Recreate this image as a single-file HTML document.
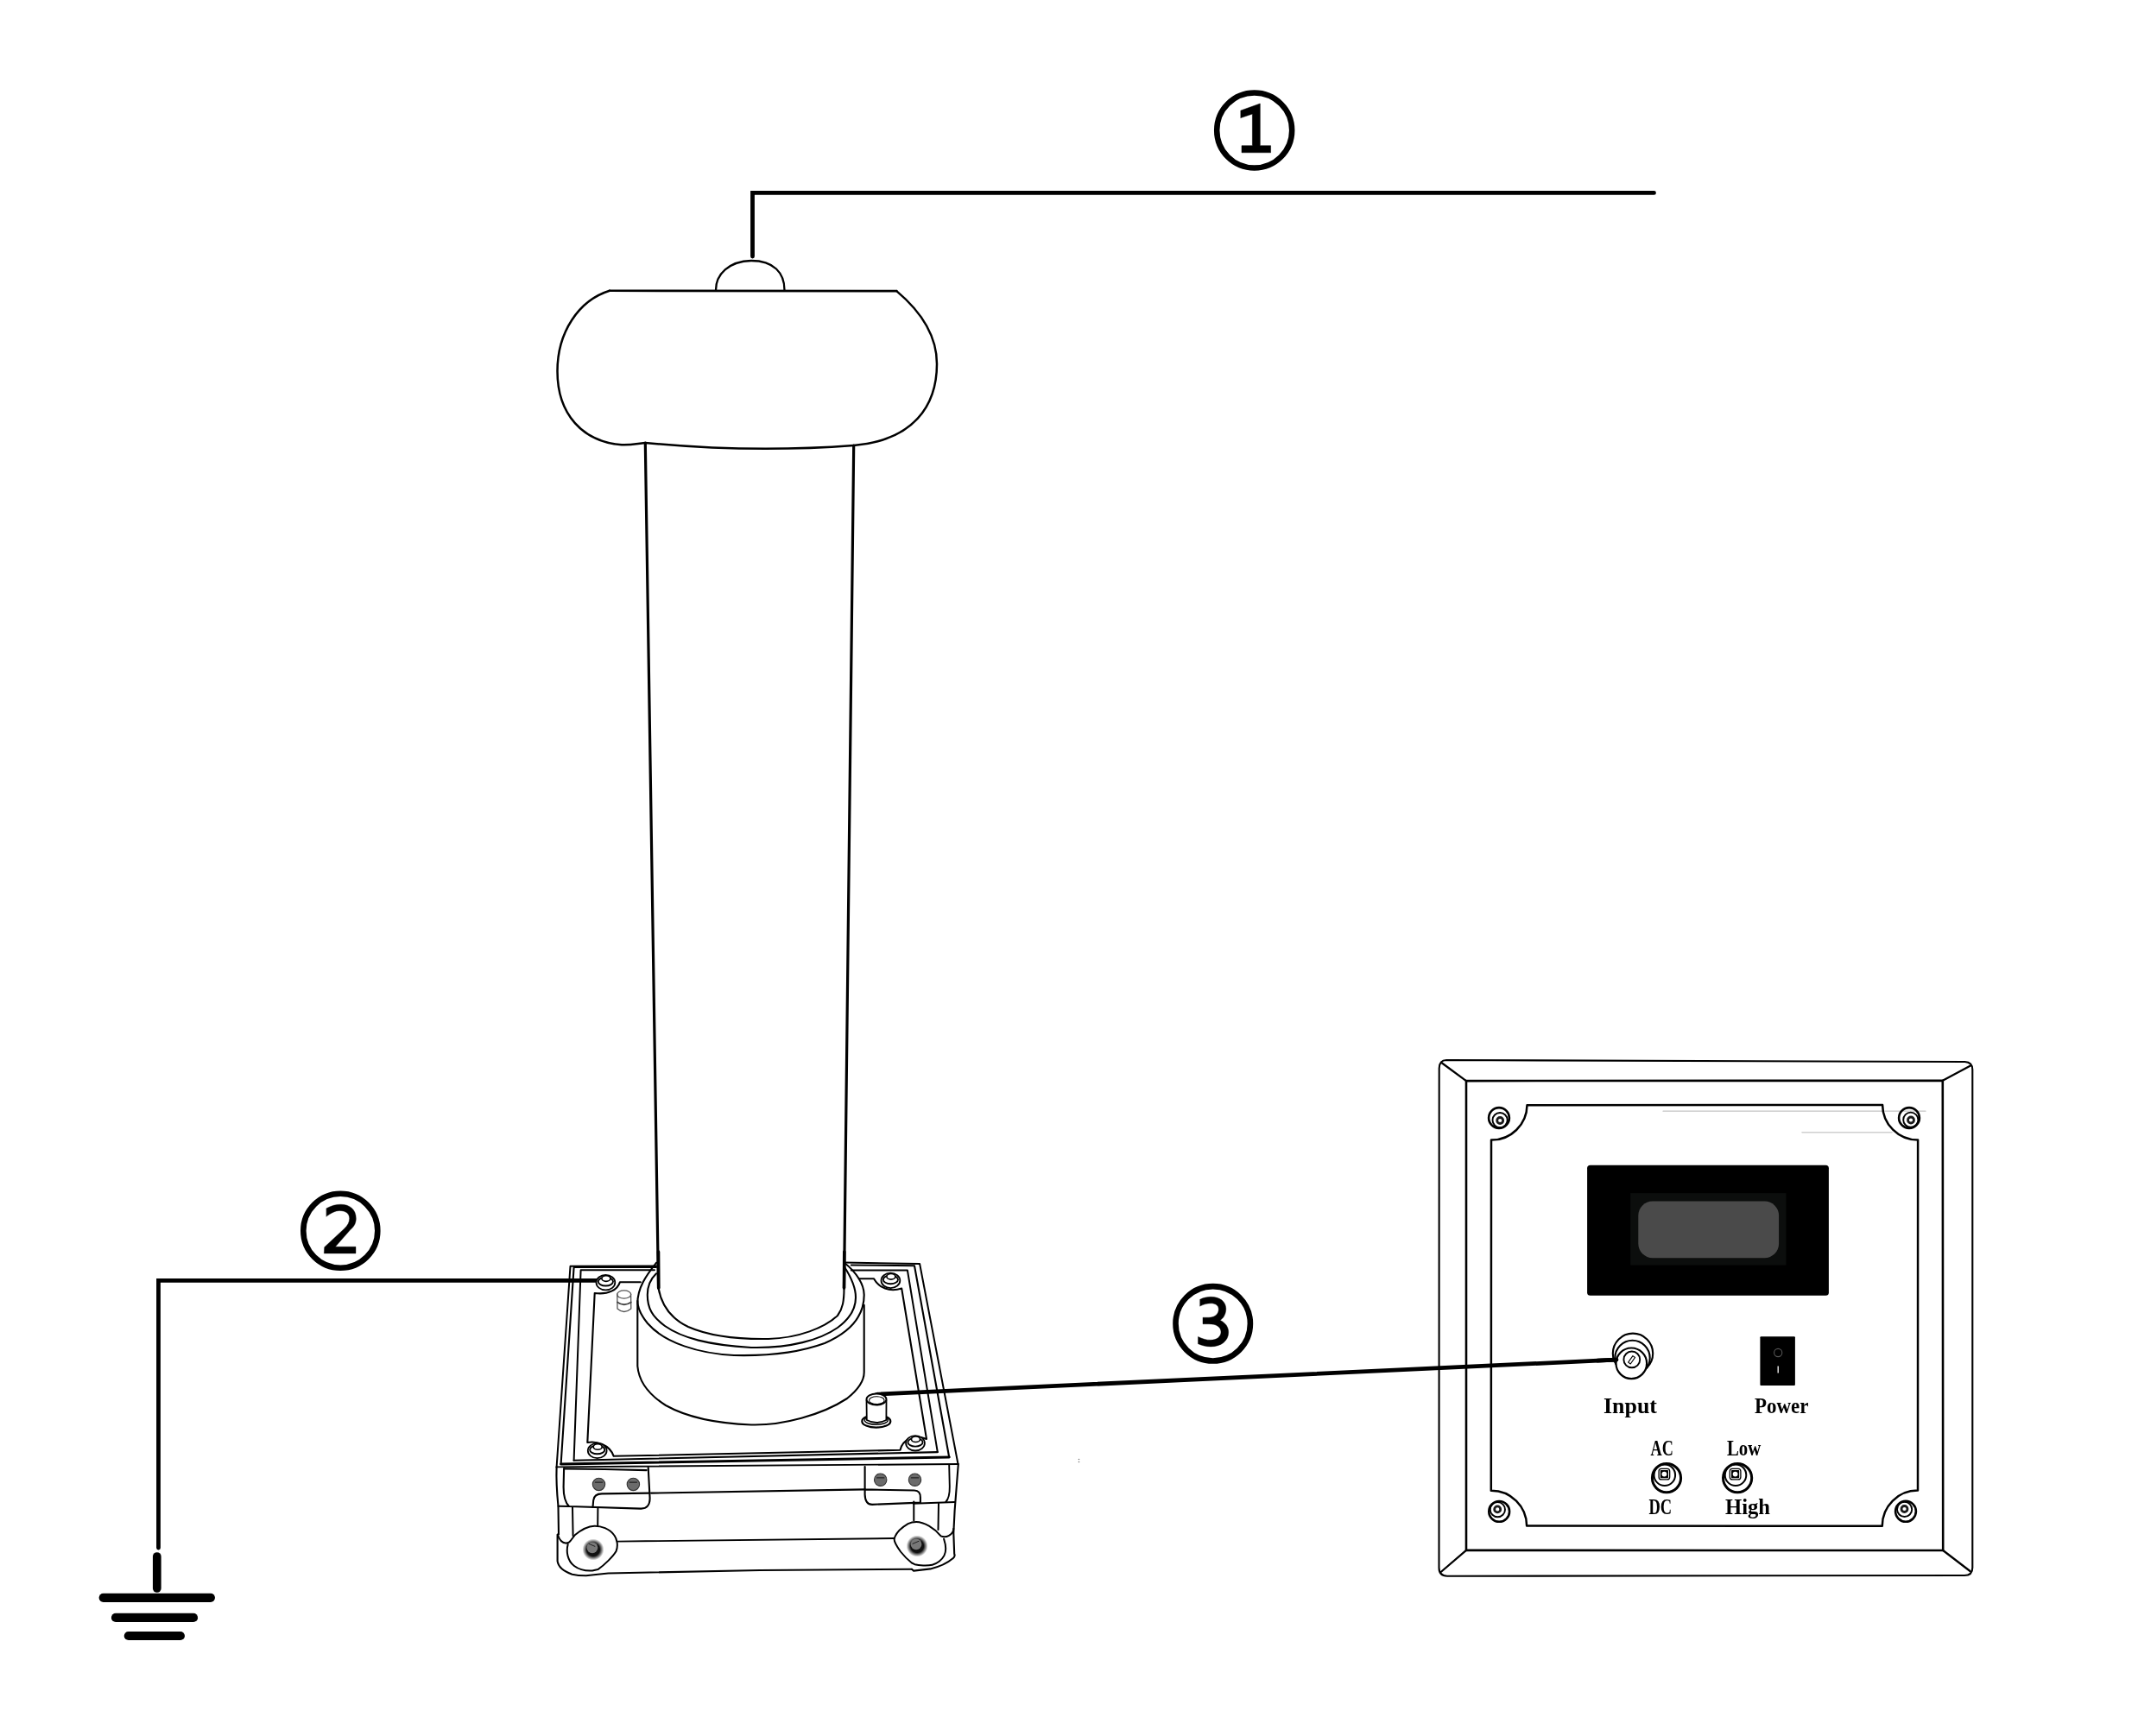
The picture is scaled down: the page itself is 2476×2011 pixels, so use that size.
<!DOCTYPE html>
<html><head><meta charset="utf-8"><title>Diagram</title>
<style>html,body{margin:0;padding:0;background:#fff;overflow:hidden}svg{display:block;will-change:transform}</style>
</head><body>
<svg width="2476" height="2011" viewBox="0 0 2476 2011" stroke-linecap="round" stroke-linejoin="round">
<rect width="2476" height="2011" fill="#fff"/>
<defs><radialGradient id="sh"><stop offset="0" stop-color="#111"/><stop offset="0.6" stop-color="#111"/><stop offset="1" stop-color="#111" stop-opacity="0"/></radialGradient></defs>
<path d="M871.5 297 L871.5 223.4 L1915.5 223.4" fill="none" stroke="#000" stroke-width="4.8" stroke-linejoin="miter" stroke-linecap="round"/>
<circle cx="1452.7" cy="151" r="43.5" fill="none" stroke="#000" stroke-width="6.5"/>
<path d="M1437 128 L1459.3 120 L1459.3 168.7 L1471.6 168.7 L1471.6 176.8 L1438 176.8 L1438 168.7 L1450.4 168.7 L1450.4 132 L1437 136.5 Z" fill="#000" stroke="#000" stroke-width="0.5"/>
<path d="M829 336 C829 318 844 302.5 870 302 C896 302 908.5 316 908.5 336" fill="none" stroke="#000" stroke-width="2.3"/>
<path d="M706 336.8 L1038.3 337.1" fill="none" stroke="#000" stroke-width="2.6"/>
<path d="M1038.3 337.1 C1062 357 1085 386 1085 421.5 C1085 470 1058 510 988.7 516 Q870 525 747.2 512.9 L739 514 Q728 515.5 720 515.2 C675 512 645.5 480 645.5 430 C645.5 385 670 348 706 336.8" fill="none" stroke="#000" stroke-width="2.5"/>
<path d="M747.3 513 L762.5 1492" fill="none" stroke="#000" stroke-width="3.2"/>
<path d="M988.7 516 L977.5 1492" fill="none" stroke="#000" stroke-width="3.2"/>
<path d="M694.5 1483.4 L183.5 1483.4 L183.5 1793" fill="none" stroke="#000" stroke-width="4.8" stroke-linejoin="miter"/>
<path d="M181.8 1803 L181.8 1840" fill="none" stroke="#000" stroke-width="9.7"/>
<path d="M119.7 1850.8 L243.9 1850.8" fill="none" stroke="#000" stroke-width="10.2"/>
<path d="M134 1873.9 L224 1873.9" fill="none" stroke="#000" stroke-width="10.2"/>
<path d="M148.8 1895 L208.9 1895" fill="none" stroke="#000" stroke-width="10.2"/>
<circle cx="394.3" cy="1425.8" r="43" fill="none" stroke="#000" stroke-width="6.6"/>
<path d="M378.1 1399.7 C384 1396.5 389 1395.2 394.7 1395.2 C405 1395.2 412.3 1401 412.3 1411.5 C412.3 1417 410 1421 405.7 1424.6 L388.4 1444.3 L412 1444.3 L412 1451.9 L375.3 1451.9 L375.7 1444.7 L398.8 1423.2 C402.5 1419.5 404.7 1416 404.7 1411.5 C404.7 1405.5 400 1402.5 393.3 1402.5 C388 1402.5 383 1405.5 378.1 1409.1 Z" fill="#000" stroke="#000" stroke-width="0.4"/>
<circle cx="1404.7" cy="1533.3" r="43.2" fill="none" stroke="#000" stroke-width="6.6"/>
<path d="M1389.8 1505.2 C1394 1503.2 1398 1502.3 1402.2 1502.3 C1413 1502.3 1419.8 1508 1419.8 1516.1 C1419.8 1522 1417 1527 1413 1529.4 C1419 1532 1422.7 1537 1422.7 1543.2 C1422.7 1553.5 1414 1559.9 1402.2 1559.9 C1396.5 1559.9 1392 1558.7 1387.5 1556.7 L1387.5 1548.4 C1392 1550.8 1397 1552.3 1402.2 1552.3 C1409 1552.3 1414 1548.5 1414 1543 C1414 1537 1408.5 1533.7 1400 1533.7 L1393 1533.7 L1393 1526.2 L1400 1526.2 C1407 1526.2 1411.3 1522 1411.3 1516.7 C1411.3 1512 1407.5 1509.8 1402.2 1509.8 C1398 1509.8 1394 1511 1389.8 1513 Z" fill="#000" stroke="#000" stroke-width="0.4"/>
<path d="M1011 1618 Q1014 1615 1020 1614.9 L1871 1575.2" fill="none" stroke="#000" stroke-width="4.8"/>
<path d="M760 1466.5 L660.5 1466.7 L644.6 1699.4" fill="none" stroke="#000" stroke-width="2"/>
<path d="M977.5 1462.5 L1065.1 1464 L1109.5 1696" fill="none" stroke="#000" stroke-width="2"/>
<path d="M644.6 1699.4 L1109.5 1696" fill="none" stroke="#000" stroke-width="1.9"/>
<path d="M760 1468 L664.6 1468 L649.6 1696" fill="none" stroke="#000" stroke-width="2.1"/>
<path d="M985.8 1465.5 L1059 1466.2 L1099.2 1688" fill="none" stroke="#000" stroke-width="2.1"/>
<path d="M649.6 1696 L1099.2 1688" fill="none" stroke="#000" stroke-width="3"/>
<path d="M758 1471.3 L672.6 1471.3 L664.6 1691.8" fill="none" stroke="#000" stroke-width="2"/>
<path d="M985.8 1471.5 L1050.9 1471.5 L1085.8 1682.1" fill="none" stroke="#000" stroke-width="2"/>
<path d="M664.6 1691.8 L1085.8 1682.1" fill="none" stroke="#000" stroke-width="2.1"/>
<path d="M741.8 1485.2 L717.9 1485.3 C715 1494 705 1500 688.7 1498 L680.3 1671 C690 1669 706 1673 710.7 1686.8 L1042.5 1679.8 C1045 1668 1058 1661 1073 1666.9 L1044.2 1492.6 C1030 1497 1018 1492 1012 1481.2 L994.7 1481.2" fill="none" stroke="#000" stroke-width="2.1"/>
<ellipse cx="701.4" cy="1485.7" rx="10.9" ry="8.7" fill="#fff" stroke="#000" stroke-width="1.8"/>
<ellipse cx="701.4" cy="1484.6" rx="8.6" ry="4.9" fill="none" stroke="#000" stroke-width="1.9"/>
<ellipse cx="701.9" cy="1481.1" rx="5.0" ry="3.3" fill="#fff" stroke="#000" stroke-width="1.6"/>
<ellipse cx="1031.4" cy="1483.4" rx="10.9" ry="8.7" fill="#fff" stroke="#000" stroke-width="1.8"/>
<ellipse cx="1031.4" cy="1482.3" rx="8.6" ry="4.9" fill="none" stroke="#000" stroke-width="1.9"/>
<ellipse cx="1031.9" cy="1478.8" rx="5.0" ry="3.3" fill="#fff" stroke="#000" stroke-width="1.6"/>
<ellipse cx="1060" cy="1671.8" rx="10.9" ry="8.7" fill="#fff" stroke="#000" stroke-width="1.8"/>
<ellipse cx="1060" cy="1670.7" rx="8.6" ry="4.9" fill="none" stroke="#000" stroke-width="1.9"/>
<ellipse cx="1060.5" cy="1667.2" rx="5.0" ry="3.3" fill="#fff" stroke="#000" stroke-width="1.6"/>
<ellipse cx="691.7" cy="1680.5" rx="10.9" ry="8.7" fill="#fff" stroke="#000" stroke-width="1.8"/>
<ellipse cx="691.7" cy="1679.4" rx="8.6" ry="4.9" fill="none" stroke="#000" stroke-width="1.9"/>
<ellipse cx="692.2" cy="1675.9" rx="5.0" ry="3.3" fill="#fff" stroke="#000" stroke-width="1.6"/>
<path d="M714.8 1499 L715 1516 Q722.7 1523 730.8 1516 L730.6 1499" fill="none" stroke="#555" stroke-width="1.3"/>
<ellipse cx="722.7" cy="1499.5" rx="8" ry="4.6" fill="none" stroke="#555" stroke-width="1.3"/>
<path d="M715 1508.5 Q722.7 1514 730.8 1508.5" fill="none" stroke="#444" stroke-width="1.8"/>
<path d="M760.2 1462.7 C748 1478 738.3 1492 738.3 1510 L738.3 1582.5 C740 1602 752 1616 771 1628 C796 1642 832 1649 870 1650.5 C906 1651.5 952 1639 981 1620 C996 1608 1000.7 1598 1000.7 1589.8 L1000.7 1511.9" fill="none" stroke="#000" stroke-width="2.1"/>
<path d="M977.5 1462.5 C992 1474 1000.7 1488 1000.7 1500 C1000.7 1525 985 1543 955 1556 C925 1567 890 1571 850 1570 C810 1568 770 1556 750 1533 C741 1522 738.3 1514 738.3 1507" fill="none" stroke="#000" stroke-width="2.1"/>
<path d="M760 1475.3 C752 1483 749.8 1492 749.8 1500 C749.8 1515 755 1525 770 1536 C790 1550 820 1558 870 1561 C915 1562 950 1552 970 1538 C985 1527 991 1515 991 1502.9 C991 1492 986 1480 977.5 1467" fill="none" stroke="#000" stroke-width="2.1"/>
<path d="M762.5 1492 C766 1512 776 1527 797 1537 C822 1548 858 1551.5 890 1551 C925 1550 955 1538 970 1524 C976 1516 977.5 1507 977.5 1492" fill="none" stroke="#000" stroke-width="2.1"/>
<path d="M762.5 1450 L762.8 1492" fill="none" stroke="#000" stroke-width="3.6"/>
<path d="M977.8 1450 L977.5 1492" fill="none" stroke="#000" stroke-width="3.6"/>
<ellipse cx="1014.8" cy="1646.4" rx="16.5" ry="7.2" fill="#fff" stroke="#000" stroke-width="2.2"/>
<ellipse cx="1014.8" cy="1645.2" rx="13.5" ry="5" fill="none" stroke="#000" stroke-width="1.4"/>
<path d="M1003.5 1622 L1003.8 1645 Q1015 1651 1026.4 1645 L1026.5 1622" fill="#fff" stroke="#000" stroke-width="1.8"/>
<ellipse cx="1015" cy="1621" rx="11.5" ry="6.5" fill="#fff" stroke="#000" stroke-width="1.9"/>
<ellipse cx="1015.3" cy="1622.2" rx="8.8" ry="4.4" fill="none" stroke="#000" stroke-width="1.1"/>
<path d="M644.6 1699.4 C644 1715 645.5 1735 646.5 1745 L647 1777.4" fill="none" stroke="#000" stroke-width="2.1"/>
<path d="M653.1 1701.4 L700 1702 L748.7 1703.1" fill="none" stroke="#000" stroke-width="2.1"/>
<path d="M750.7 1700.1 L752.6 1735.5 Q752.5 1747.8 742.2 1747.6 L659 1745 Q652.5 1738 652.6 1722.4 L653.1 1701.4" fill="none" stroke="#000" stroke-width="2.1"/>
<path d="M686.5 1746 L687.2 1738 Q688 1730.6 697 1730.4 L751.5 1729.6" fill="none" stroke="#000" stroke-width="2.1"/>
<path d="M754 1729.6 L1001.6 1725.4" fill="none" stroke="#000" stroke-width="2.1"/>
<path d="M646.5 1744.7 L659 1745" fill="none" stroke="#000" stroke-width="1.9"/>
<path d="M663 1746 L663.6 1779" fill="none" stroke="#000" stroke-width="2"/>
<path d="M692.4 1746.3 L692.2 1767.5" fill="none" stroke="#000" stroke-width="2"/>
<path d="M1001.6 1699 L1001.6 1731.2 Q1002 1742.9 1010 1742.9 L1065.9 1740.6 L1065.9 1735 Q1066 1726.5 1058.9 1726.5 L1001.6 1725.4" fill="none" stroke="#000" stroke-width="2.1"/>
<path d="M1099.2 1697.3 L1099.8 1722 Q1100 1735 1095.2 1740" fill="none" stroke="#000" stroke-width="1.9"/>
<path d="M1057.7 1741.7 L1105.7 1740" fill="none" stroke="#000" stroke-width="1.9"/>
<path d="M1109.8 1696 L1105.6 1750 L1104.3 1776 L1105.2 1800 Q1106.5 1803 1103.5 1805.3 C1098 1810 1088 1815 1077.5 1817.4 L1058.1 1819.6 L1055.9 1817.8" fill="none" stroke="#000" stroke-width="2.1"/>
<path d="M1058.3 1739.4 L1058.3 1761.6" fill="none" stroke="#000" stroke-width="2"/>
<path d="M1087 1741.7 L1086.5 1772.1" fill="none" stroke="#000" stroke-width="2"/>
<path d="M645.6 1778 L645.6 1808.4 C646.5 1815 652 1820 662.6 1823.7 C668 1825 673 1825.3 678.7 1825.3 L692.4 1823.7 L704.5 1822.5 L880 1819 L1055.9 1817.8" fill="none" stroke="#000" stroke-width="2.1"/>
<path d="M715.4 1785.6 L1035.5 1782" fill="none" stroke="#000" stroke-width="1.9"/>
<path d="M657.7 1789 C655.5 1797 657 1808 665 1814 C671 1818.5 678 1820 686 1819.5 L692.4 1818.1 C700 1813 710 1803 713.5 1797 C716 1791 715 1783 711 1778 C706 1771 696 1767.5 688.4 1767.7 C680 1768 672 1773 666 1778 L661 1784.5 C659.5 1786.8 657.5 1787.8 655 1787.6 C651 1787.2 647.5 1783 645.8 1777.5" fill="none" stroke="#000" stroke-width="2"/>
<path d="M1093.1 1782.8 C1095.5 1790 1096 1797 1093.5 1801.9 C1091 1807 1085 1811.5 1079.7 1812.7 C1074 1814 1064 1813.5 1059.4 1812.2 L1055.9 1810.5 C1050 1806 1045 1800 1043 1797.5 C1039 1792 1035.6 1787 1035.6 1783 C1037 1776 1045 1769 1051.6 1765.1 C1055 1763.5 1058 1763 1061.1 1763 C1070 1763 1082 1770 1089.6 1779.4 C1092 1780.5 1096 1780.5 1099 1778.8 C1103 1776.5 1104.3 1773 1104.3 1770.7" fill="none" stroke="#000" stroke-width="2"/>
<circle cx="687" cy="1795" r="12.5" fill="url(#sh)"/>
<circle cx="685.9" cy="1792.8" r="6.4" fill="#787878"/>
<path d="M681.9 1788.3 L688.9 1791.3" fill="none" stroke="#222" stroke-width="1"/>
<circle cx="1062.1" cy="1791" r="12.5" fill="url(#sh)"/>
<circle cx="1061" cy="1788.8" r="6.4" fill="#787878"/>
<path d="M1057 1788.3 L1064 1785.3" fill="none" stroke="#222" stroke-width="1"/>
<circle cx="693.5" cy="1719.4" r="7.2" fill="#6b6b6b" stroke="#333" stroke-width="1.1"/>
<path d="M689.3 1717.1 L697.7 1717.1" fill="none" stroke="#222" stroke-width="1.1"/>
<circle cx="733.4" cy="1719.4" r="7.2" fill="#6b6b6b" stroke="#333" stroke-width="1.1"/>
<path d="M729.2 1717.1 L737.6 1717.1" fill="none" stroke="#222" stroke-width="1.1"/>
<circle cx="1019.7" cy="1714.2" r="7.2" fill="#6b6b6b" stroke="#333" stroke-width="1.1"/>
<path d="M1015.5 1711.9 L1023.9 1711.9" fill="none" stroke="#222" stroke-width="1.1"/>
<circle cx="1059.5" cy="1714.2" r="7.2" fill="#6b6b6b" stroke="#333" stroke-width="1.1"/>
<path d="M1055.3 1711.9 L1063.7 1711.9" fill="none" stroke="#222" stroke-width="1.1"/>
<path d="M1675 1228 L2275.5 1230 Q2284.3 1230.5 2284.3 1239 L2284.3 1816 Q2284.3 1825 2275 1825 L1676 1825.7 Q1666.5 1825.7 1666.5 1816 L1666.7 1237.5 Q1667 1228 1675 1228 Z" fill="none" stroke="#000" stroke-width="2.1"/>
<path d="M1698 1252.1 L2249.8 1251.8 L2250.2 1796 L1698 1795.9 Z" fill="none" stroke="#000" stroke-width="2.6" stroke-linejoin="miter"/>
<path d="M1669.7 1231.3 L1698 1252.1" fill="none" stroke="#000" stroke-width="2.3"/>
<path d="M2282 1234.6 L2249.8 1251.8" fill="none" stroke="#000" stroke-width="2.3"/>
<path d="M1668.7 1821 L1698 1795.9" fill="none" stroke="#000" stroke-width="2.3"/>
<path d="M2281.5 1820 L2250.2 1796" fill="none" stroke="#000" stroke-width="2.3"/>
<path d="M1926 1287.2 L2230 1287.2" fill="none" stroke="#c4c4c4" stroke-width="1.2"/>
<path d="M2087 1311.8 L2191 1311.8" fill="none" stroke="#cfcfcf" stroke-width="1.5"/>
<path d="M1768.5 1280.2 L2180.1 1279.9 A41 41 0 0 0 2221.1 1320.6 L2221 1726.6 A41 41 0 0 0 2179.8 1767.7 L1768.1 1767.6 A41 41 0 0 0 1726.8 1726.7 L1727 1320.6 A41 41 0 0 0 1768.5 1280.2 Z" fill="none" stroke="#000" stroke-width="2.5"/>
<circle cx="1736" cy="1295" r="11.9" fill="none" stroke="#000" stroke-width="2.6"/>
<circle cx="1737.1" cy="1297.6" r="8.6" fill="none" stroke="#000" stroke-width="1.9"/>
<circle cx="1737.2" cy="1298" r="3.5" fill="none" stroke="#1a1a1a" stroke-width="2.8"/>
<circle cx="2211" cy="1295" r="11.9" fill="none" stroke="#000" stroke-width="2.6"/>
<circle cx="2212.8" cy="1297.2" r="8.6" fill="none" stroke="#000" stroke-width="1.9"/>
<circle cx="2213" cy="1297.5" r="3.5" fill="none" stroke="#1a1a1a" stroke-width="2.8"/>
<circle cx="1736.2" cy="1750.9" r="11.9" fill="none" stroke="#000" stroke-width="2.6"/>
<circle cx="1734.4" cy="1748.7" r="8.6" fill="none" stroke="#000" stroke-width="1.9"/>
<circle cx="1734.2" cy="1748.4" r="3.5" fill="none" stroke="#1a1a1a" stroke-width="2.8"/>
<circle cx="2207" cy="1750.8" r="11.9" fill="none" stroke="#000" stroke-width="2.6"/>
<circle cx="2205.6" cy="1748.4" r="8.6" fill="none" stroke="#000" stroke-width="1.9"/>
<circle cx="2205.5" cy="1748" r="3.5" fill="none" stroke="#1a1a1a" stroke-width="2.8"/>
<rect x="1838.1" y="1349.8" width="279.8" height="150.9" rx="3.5" fill="#000"/>
<rect x="1888.2" y="1382.1" width="180.3" height="83.5" fill="#0c0e0d"/>
<rect x="1897.3" y="1391.6" width="162.8" height="65.6" rx="16.5" fill="#4a4a4a"/>
<circle cx="1891" cy="1567.8" r="23.2" fill="#fff" stroke="#000" stroke-width="2.1"/>
<circle cx="1890.5" cy="1573" r="20.2" fill="#fff" stroke="#000" stroke-width="2.1"/>
<circle cx="1889.3" cy="1579.3" r="17.8" fill="#fff" stroke="#000" stroke-width="2.2"/>
<circle cx="1889.8" cy="1574.9" r="9.4" fill="#fff" stroke="#000" stroke-width="1.9"/>
<rect x="-1.6" y="-4.6" width="3.2" height="9.2" fill="#fff" stroke="#000" stroke-width="1.1" transform="translate(1889.6 1575.3) rotate(35)"/>
<path d="M1850 1576.2 L1872 1575.2" fill="none" stroke="#000" stroke-width="4.8"/>
<rect x="2038.4" y="1548.3" width="40.5" height="56.7" rx="1" fill="#000"/>
<circle cx="2059.2" cy="1567" r="4.6" fill="none" stroke="#555" stroke-width="1.1"/>
<path d="M2059.2 1582.6 L2059.2 1590.6" fill="none" stroke="#fff" stroke-width="1.3" stroke-linecap="butt"/>
<circle cx="1930" cy="1712.1" r="16.6" fill="#fff" stroke="#000" stroke-width="3.0"/>
<circle cx="1927.8" cy="1708.7" r="12.3" fill="none" stroke="#000" stroke-width="2.0"/>
<rect x="1921.1" y="1701.3" width="12.6" height="12.6" rx="3" fill="none" stroke="#000" stroke-width="1.3"/>
<rect x="1922.8" y="1703" width="9.2" height="9.2" rx="0.8" fill="#000"/>
<circle cx="1927.4" cy="1707.6" r="2.9" fill="#fff"/>
<circle cx="2012.1" cy="1712.1" r="16.6" fill="#fff" stroke="#000" stroke-width="3.0"/>
<circle cx="2010" cy="1708.7" r="12.3" fill="none" stroke="#000" stroke-width="2.0"/>
<rect x="2003.3" y="1701.3" width="12.6" height="12.6" rx="3" fill="none" stroke="#000" stroke-width="1.3"/>
<rect x="2005" y="1703" width="9.2" height="9.2" rx="0.8" fill="#000"/>
<circle cx="2009.6" cy="1707.6" r="2.9" fill="#fff"/>
<text x="1857" y="1636.5" font-family="Liberation Serif" font-weight="bold" font-size="24.7" textLength="62" lengthAdjust="spacingAndGlyphs">Input</text>
<text x="2032" y="1636.5" font-family="Liberation Serif" font-weight="bold" font-size="24.7" textLength="62.5" lengthAdjust="spacingAndGlyphs">Power</text>
<text x="1911.5" y="1685.8" font-family="Liberation Serif" font-weight="bold" font-size="25.5" textLength="26.3" lengthAdjust="spacingAndGlyphs">AC</text>
<text x="2000" y="1685.8" font-family="Liberation Serif" font-weight="bold" font-size="25.5" textLength="39.3" lengthAdjust="spacingAndGlyphs">Low</text>
<text x="1909.5" y="1753.8" font-family="Liberation Serif" font-weight="bold" font-size="25.5" textLength="26.7" lengthAdjust="spacingAndGlyphs">DC</text>
<text x="1998" y="1753.8" font-family="Liberation Serif" font-weight="bold" font-size="25.5" textLength="52" lengthAdjust="spacingAndGlyphs">High</text>
<circle cx="1249.5" cy="1690.5" r="0.8" fill="#777"/>
<circle cx="1249.5" cy="1693.5" r="0.8" fill="#777"/>
</svg>
</body></html>
